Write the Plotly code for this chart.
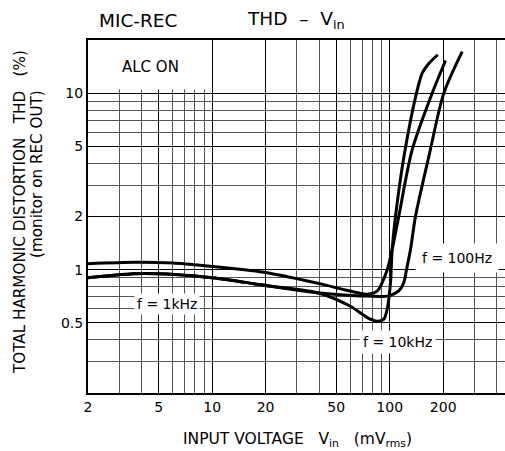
import math
import plotly.graph_objects as go

# ---- data ----
vin_1k = [2.0, 3.7, 6.0, 9.4, 16.5, 20.4, 40.8, 56.4, 74.7, 85.0, 96.8, 103.2, 112.5, 133.8, 173.4, 206.2]
thd_1k = [1.08, 1.10, 1.09, 1.05, 0.99, 0.96, 0.83, 0.767, 0.725, 0.757, 1.00, 1.30, 2.01, 4.78, 10.0, 15.3]

vin_10k = [2.0, 4.05, 10.0, 17.5, 20.4, 39.0, 60.1, 74.7, 85.0, 92.6, 96.8, 101.0, 103.2, 107.8, 121.0, 142.8, 152.4, 167.0, 186.4]
thd_10k = [0.90, 0.95, 0.90, 0.83, 0.81, 0.74, 0.62, 0.535, 0.51, 0.524, 0.60, 0.845, 1.30, 2.01, 4.54, 10.4, 12.97, 14.8, 16.5]

vin_100 = [2.0, 4.05, 10.0, 17.5, 20.4, 39.0, 52.8, 68.4, 98.8, 112.5, 120.0, 124.3, 130.9, 139.7, 167.4, 201.6, 255.9]
thd_100 = [0.90, 0.95, 0.90, 0.83, 0.81, 0.74, 0.72, 0.71, 0.71, 0.757, 0.845, 1.0, 1.30, 2.01, 4.54, 10.0, 17.2]

x_ticks = [2, 5, 10, 20, 50, 100, 200]
x_minor = [3, 4, 6, 7, 8, 9, 30, 40, 60, 70, 80, 90, 300, 400]
y_ticks = [0.5, 1, 2, 5, 10]
y_tick_text = ["0.5", "1", "2", "5", "10"]
y_minor = [0.3, 0.4, 0.6, 0.7, 0.8, 0.9, 3, 4, 6, 7, 8, 9]

FONT = "DejaVu Sans"
NB = "\u00a0"

fig = go.Figure()
for name, xs, ys in [("f = 1kHz", vin_1k, thd_1k),
                     ("f = 10kHz", vin_10k, thd_10k),
                     ("f = 100Hz", vin_100, thd_100)]:
    fig.add_trace(go.Scatter(x=xs, y=ys, mode="lines", name=name,
                             line=dict(color="black", width=3, shape="spline", smoothing=0.8)))

# white mask behind the "ALC ON" label (hides grid lines there)
fig.add_shape(type="rect", xref="x", yref="y", x0=2, x1=9.85, y0=10.5, y1=20,
              fillcolor="white", line=dict(width=0), layer="between")

annos = [
    dict(text="ALC" + NB + "ON", x=math.log10(4.5), y=math.log10(14.1), xref="x", yref="y",
         showarrow=False, font=dict(size=15)),
    dict(text="f = 1kHz", x=math.log10(5.54), y=math.log10(0.637), xref="x", yref="y",
         showarrow=False, bgcolor="white", borderpad=2, font=dict(size=14)),
    dict(text="f = 10kHz", x=math.log10(110.6), y=math.log10(0.388), xref="x", yref="y",
         showarrow=False, bgcolor="white", borderpad=3, font=dict(size=14)),
    dict(text="f = 100Hz", x=math.log10(238), y=math.log10(1.16), xref="x", yref="y",
         showarrow=False, bgcolor="white", borderpad=6, font=dict(size=14)),
    dict(text="MIC-REC", x=(97 - 88) / 417, y=(393 - 20) / 353, xref="paper", yref="paper",
         xanchor="left", yanchor="middle", showarrow=False, font=dict(size=18.5)),
    dict(text="THD" + NB * 2 + "\u2013" + NB * 2 + "V<sub>in</sub>", x=(245 - 88) / 417, y=(393 - 20) / 353,
         xref="paper", yref="paper", xanchor="left", yanchor="middle", showarrow=False,
         font=dict(size=18.5)),
    dict(text="INPUT VOLTAGE" + NB * 3 + "V<sub>in</sub>" + NB * 3 + "(mV<sub>rms</sub>)",
         x=(297 - 88) / 417, y=(393 - 440) / 353, xref="paper", yref="paper",
         xanchor="center", yanchor="middle", showarrow=False, font=dict(size=15.5)),
    dict(text="TOTAL HARMONIC DISTORTION" + NB * 3 + "THD" + NB * 3 + "(%)",
         x=(20 - 88) / 417, y=(393 - 212) / 353, xref="paper", yref="paper",
         xanchor="center", yanchor="middle", textangle=-90, showarrow=False, font=dict(size=15.2)),
    dict(text="(monitor on REC OUT)",
         x=(37 - 88) / 417, y=(393 - 174) / 353, xref="paper", yref="paper",
         xanchor="center", yanchor="middle", textangle=-90, showarrow=False, font=dict(size=15.2)),
]

fig.update_layout(
    width=505, height=451,
    margin=dict(l=88, r=0, t=40, b=58),
    paper_bgcolor="white", plot_bgcolor="white",
    showlegend=False,
    font=dict(family=FONT, color="black", size=14),
    annotations=annos,
)
fig.update_xaxes(type="log", range=[math.log10(2), math.log10(445.7)],
                 tickmode="array", tickvals=x_ticks, ticktext=[str(v) for v in x_ticks],
                 showgrid=True, gridcolor="black", gridwidth=1,
                 minor=dict(tickmode="array", tickvals=x_minor, showgrid=True, gridcolor="#555", gridwidth=1, ticks=""),
                 showline=True, linecolor="black", linewidth=2, mirror=True, ticks="",
                 zeroline=False, tickfont=dict(size=14), automargin=False)
fig.update_yaxes(type="log", range=[math.log10(0.2), math.log10(20)],
                 tickmode="array", tickvals=y_ticks, ticktext=y_tick_text,
                 showgrid=True, gridcolor="black", gridwidth=1,
                 minor=dict(tickmode="array", tickvals=y_minor, showgrid=True, gridcolor="#555", gridwidth=1, ticks=""),
                 showline=True, linecolor="black", linewidth=2, ticks="",
                 zeroline=False, tickfont=dict(size=14), automargin=False)

fig.write_html("out.html", config={"displayModeBar": False},
               post_script="document.body.style.margin='0';document.body.style.overflow='hidden';")
